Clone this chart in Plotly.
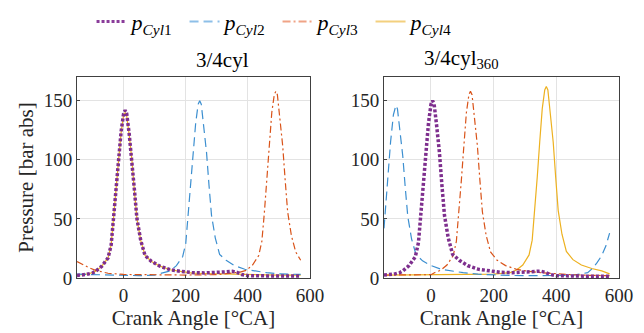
import plotly.graph_objects as go
from plotly.subplots import make_subplots

# ---- data: left panel "3/4cyl" ----
x1L = [-150,-120,-100,-90,-70,-50,-40,-32,-24,-16,-8,0,5,10,18,27,35,43,55,69,90,117,150,181,220,260,300,330,350,365,380,400,450,500,570]
y1L = [2.2,3,4.3,5.7,10,17,28,50,75,100,124,139,142,139,122,100,74,50,32,19,14,10,7,5.7,4.6,4.3,4.5,5.2,5.6,4.8,3,2,1.8,1.7,1.7]
x4L = x1L
y4L = [2.5,3.2,4.5,5.8,10,17,28,50,75,100,123,138,140,137,121,99,73,50,32,19,14,10,7,5.5,4.2,3.8,3.6,3.5,3.3,3,2.8,2.6,2.5,2.5,2.5]
x2L = [-150,-100,-50,0,50,100,130,150,170,190,200,208,216,224,232,240,245,250,258,267,275,283,295,309,330,357,390,421,460,500,540,570]
y2L = [3.2,3,2.4,2,2,2.5,4.5,6,10.5,18,29,53,79,106,131,147,150,147,129,106,78,53,34,20,15,10.5,7.4,6,4.5,3.5,3.2,3]
x3L = [-150,-130,-110,-90,-70,-50,0,100,200,300,350,375,395,415,435,445,453,461,469,477,485,490,495,503,512,520,528,540,554,570]
y3L = [14,11,8.5,6.5,5,4,3,2.5,2.5,2.8,4,5,6.5,11,19,31,55,83,112,140,155,158,155,136,112,83,56,36,22,15]

# ---- data: right panel "3/4cyl_360" ----
x1R = x1L
y1R = [2.5,3.2,4.5,6,10.5,18,30,53,80,106,131,147,150,147,129,106,78,53,34,20,15,10.5,7.5,6,4.8,4.5,4.8,5.5,5.8,4.8,3,2,1.6,1.5,1.5]
x2R = [-150,-145,-137,-129,-120,-112,-107,-99,-90,-82,-74,-62,-48,-27,0,33,64,103,150,200,250,300,350,400,450,500,515,530,545,558,570]
y2R = [42,60,88,115,138,146,143,125,103,76,52,33,20,14.5,10.5,7.3,6,4.5,3.2,2.5,2.2,2,2,2,2.2,4.5,8,13,19,27,38]
x3R = [-150,-100,-50,0,11,31,51,71,81,89,97,105,113,121,126,131,139,148,156,164,176,190,211,238,271,302,350,400,450,500,570]
y3R = [2.5,2.5,2.6,2.8,4.5,6.5,11,19,31,55,83,112,140,155,158,155,136,112,83,56,36,22,15,10.5,7.5,6,4.5,3.5,2.8,2.3,2]
x4R = [-150,-50,50,150,200,253,273,293,313,323,331,339,347,355,363,368,373,381,390,398,406,418,432,453,480,513,545,570]
y4R = [2.5,2.8,3,3,3.2,4.6,6.7,11,19.5,32,56,85,115,143,159,162,159,139,115,85,57,37,22.5,15.5,11,8,6,3.5]

names = ["<i>p</i><sub><i>Cyl</i>1</sub>", "<i>p</i><sub><i>Cyl</i>2</sub>",
         "<i>p</i><sub><i>Cyl</i>3</sub>", "<i>p</i><sub><i>Cyl</i>4</sub>"]
titles = ["3/4cyl", "3/4cyl<sub>360</sub>"]
xticks = [0, 200, 400, 600]
yticks = [0, 50, 100, 150]

colors = ["#7E2F8E", "#3C8FD0", "#D95319", "#EDB120"]
legend_colors = ["#8A3C9A", "#8DBFE8", "#F0A386", "#F3D07E"]
styles = [dict(width=3.5, dash="3px,2px"), dict(width=1.2, dash="9px,5px"),
          dict(width=1.2, dash="7px,3px,2px,3px"), dict(width=1.2, dash="solid")]
legend_styles = [dict(width=3, dash="3px,2px"), dict(width=2, dash="9px,5px"),
                 dict(width=2, dash="8px,3px,2px,3px"), dict(width=2, dash="solid")]

FONT = "Liberation Serif"

fig = make_subplots(rows=1, cols=2, horizontal_spacing=0.1364)

left = [(x1L, y1L), (x2L, y2L), (x3L, y3L), (x4L, y4L)]
right = [(x1R, y1R), (x2R, y2R), (x3R, y3R), (x4R, y4R)]
order = [3, 1, 2, 0]  # draw yellow first, purple on top
for col, data in ((1, left), (2, right)):
    for i in order:
        xs, ys = data[i]
        fig.add_trace(go.Scatter(x=xs, y=ys, mode="lines", name=names[i],
                                 line=dict(color=colors[i], **styles[i]),
                                 showlegend=False),
                      row=1, col=col)
# legend entries
for i in range(4):
    fig.add_trace(go.Scatter(x=[None], y=[None], mode="lines", name=names[i],
                             line=dict(color=legend_colors[i], **legend_styles[i]),
                             showlegend=True), row=1, col=1)

fig.update_layout(
    width=644, height=333,
    margin=dict(l=77, r=25, t=77, b=55),
    paper_bgcolor="white", plot_bgcolor="white",
    font=dict(family=FONT, color="#262626", size=19),
    legend=dict(orientation="h", x=0.37, xanchor="center", y=0.935, yanchor="middle",
                yref="container", font=dict(size=22, color="black"),
                itemwidth=30, traceorder="normal",
                entrywidth=48, entrywidthmode="pixels"),
    xaxis=dict(domain=[0, 0.4299]),
    xaxis2=dict(domain=[0.5664, 1]),
)
for ax in ("xaxis", "xaxis2"):
    fig.layout[ax].update(range=[-150, 600], tickvals=xticks, ticks="inside", ticklen=3,
                          showgrid=True, gridcolor="#E3E3E3", gridwidth=1,
                          showline=True, mirror=True, linecolor="#404040", linewidth=1,
                          zeroline=False, tickfont=dict(size=19, family=FONT),
                          title=dict(text="Crank Angle [°CA]", font=dict(size=21, family=FONT), standoff=2))
for ax in ("yaxis", "yaxis2"):
    fig.layout[ax].update(range=[0, 170], tickvals=yticks, ticks="inside", ticklen=3,
                          showgrid=True, gridcolor="#E3E3E3", gridwidth=1,
                          showline=True, mirror=True, linecolor="#404040", linewidth=1,
                          zeroline=False, tickfont=dict(size=19, family=FONT))
fig.layout.yaxis.title = dict(text="Pressure [bar abs]", font=dict(size=21, family=FONT), standoff=4)

for k, t in enumerate(titles):
    dom = fig.layout.xaxis.domain if k == 0 else fig.layout.xaxis2.domain
    fig.add_annotation(text=t, x=(dom[0] + dom[1]) / 2, xref="paper", y=1.0, yref="paper",
                       yanchor="bottom", yshift=3, showarrow=False,
                       font=dict(size=21, family=FONT, color="black"))

fig.write_html("out.html")
